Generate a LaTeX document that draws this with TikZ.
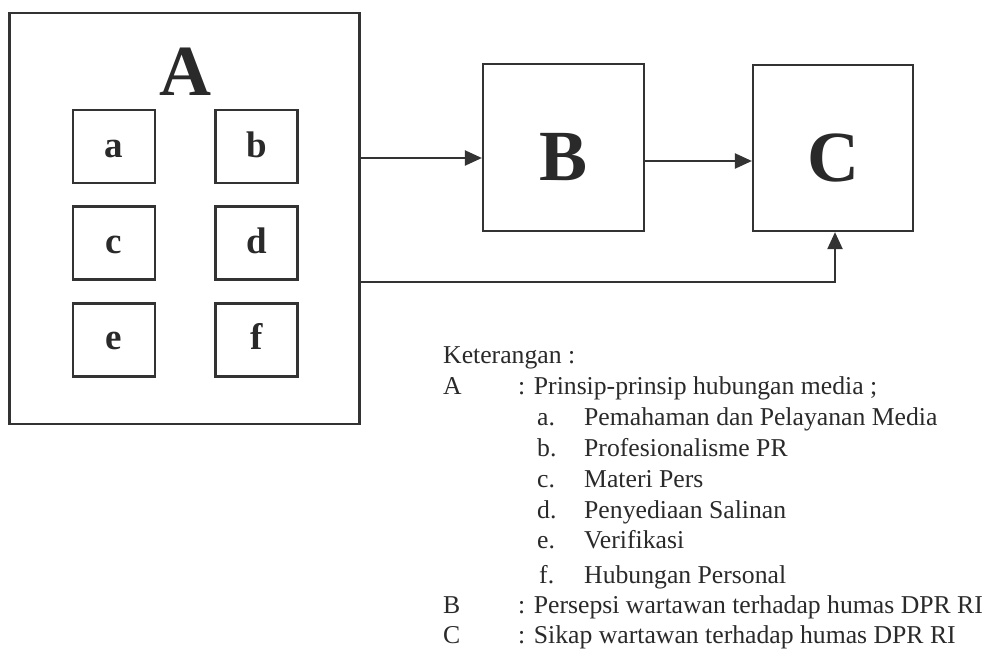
\documentclass[tikz,border=0pt]{standalone}
\usepackage{fontspec}
\setmainfont{Liberation Serif}
\usetikzlibrary{arrows.meta}
\definecolor{ink}{HTML}{333333}
\definecolor{txt}{HTML}{2A2A2A}
\tikzset{
  frame/.style={draw=ink, line width=2.2pt, inner sep=0pt, fill=none},
  bigbox/.style={frame, minimum width=350pt, minimum height=411pt},
  smallbox/.style={frame, minimum width=82pt, minimum height=73pt},
  mainbox/.style={frame, minimum width=161pt, minimum height=167pt},
  bigletter/.style={anchor=base, inner sep=0pt, text=txt, font=\fontsize{72}{72}\selectfont\bfseries},
  smallletter/.style={anchor=base, inner sep=0pt, text=txt, font=\fontsize{37}{37}\selectfont\bfseries},
  legend/.style={anchor=base west, inner sep=0pt, text=txt, font=\fontsize{25.7}{30}\selectfont},
  conn/.style={draw=ink, line width=2.2pt},
  arr/.style={conn, -{Triangle[length=17pt,width=15pt]}}
}
\begin{document}
\begin{tikzpicture}[x=1pt,y=-1pt]
\useasboundingbox (0,0) rectangle (988,651);
\fill[white] (0,0) rectangle (988,651);

% Box A
\node[bigbox] (Abox) at (184.5,218.5) {};
\node[bigletter] (Alet) at (185,95) {A};
\node[smallbox] (ba) at (114,146.5) {};
\node[smallbox] (bb) at (256.5,146.5) {};
\node[smallbox] (bc) at (114,243) {};
\node[smallbox] (bd) at (256.5,243) {};
\node[smallbox] (be) at (114,340) {};
\node[smallbox] (bf) at (256.5,340) {};
\node[smallletter] (la) at (114,157) {a};
\node[smallletter] (lb) at (256.5,157) {b};
\node[smallletter] (lc) at (114,253) {c};
\node[smallletter] (ld) at (256.5,253) {d};
\node[smallletter] (le) at (114,349) {e};
\node[smallletter] (lf) at (256.5,349) {f};

% Boxes B and C
\node[mainbox] (B) at (563.5,147.5) {};
\node[bigletter] (Blet) at (563.5,180) {B};
\node[mainbox, minimum width=160pt, minimum height=166pt] (C) at (833,148) {};
\node[bigletter] (Clet) at (833,181) {C};

% Connectors
\coordinate (ab) at (483,158);
\coordinate (bcp) at (753,161);
\coordinate (turn) at (835,282);
\draw[arr] (Abox.east |- ab) -- (B.west |- ab);
\draw[arr] (B.east |- bcp) -- (C.west |- bcp);
\draw[arr] (Abox.east |- turn) -- (turn) -- (turn |- C.south);

% Legend
\node[legend] (k) at (443,363) {Keterangan :};
\node[legend] (kA) at (443,394) {A};
\node[legend] (kAt) at (518,394) {: Prinsip-prinsip hubungan media ;};
\node[legend] (ia) at (537,425) {a.};
\node[legend] (ta) at (584,425) {Pemahaman dan Pelayanan Media};
\node[legend] (ib) at (537,456) {b.};
\node[legend] (tb) at (584,456) {Profesionalisme PR};
\node[legend] (ic) at (537,487) {c.};
\node[legend] (tc) at (584,487) {Materi Pers};
\node[legend] (id) at (537,518) {d.};
\node[legend] (td) at (584,518) {Penyediaan Salinan};
\node[legend] (ie) at (537,548.5) {e.};
\node[legend] (te) at (584,548.5) {Verifikasi};
\node[legend] (if) at (539,583.5) {f.};
\node[legend] (tf) at (584,583.5) {Hubungan Personal};
\node[legend] (kB) at (443,613.5) {B};
\node[legend] (kBt) at (518,613.5) {: Persepsi wartawan terhadap humas DPR RI};
\node[legend] (kC) at (443,643.5) {C};
\node[legend] (kCt) at (518,643.5) {: Sikap wartawan terhadap humas DPR RI};
\end{tikzpicture}
\end{document}
